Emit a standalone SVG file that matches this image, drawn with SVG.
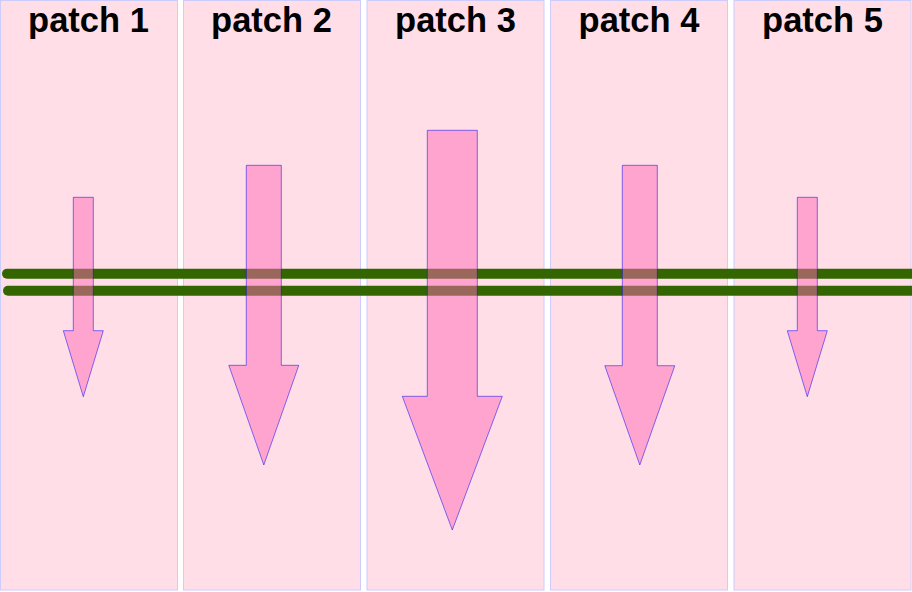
<svg xmlns="http://www.w3.org/2000/svg" width="912" height="592" viewBox="0 0 912 592">
<style>
.patch{fill:#ffdee8;stroke:#ccccff;stroke-width:1}
.lbl{font-family:"Liberation Sans",Arial,sans-serif;font-weight:bold;font-size:34.5px;fill:#000;text-anchor:middle}
.rail{stroke:#336600;stroke-width:10;stroke-linecap:round;fill:none}
.arrow{fill:#ff69b4;fill-opacity:0.5;stroke:#0000ff;stroke-opacity:0.5;stroke-width:1}
</style>
<rect width="912" height="592" fill="#ffffff"/>
<g id="patch1"><rect class="patch" x="0.5" y="0.5" width="177" height="589.5"/><text class="lbl" x="88.5" y="32">patch 1</text></g>
<g id="patch2"><rect class="patch" x="183.5" y="0.5" width="177" height="589.5"/><text class="lbl" x="271.5" y="32">patch 2</text></g>
<g id="patch3"><rect class="patch" x="367" y="0.5" width="177" height="589.5"/><text class="lbl" x="455.5" y="32">patch 3</text></g>
<g id="patch4"><rect class="patch" x="550.5" y="0.5" width="177" height="589.5"/><text class="lbl" x="639" y="32">patch 4</text></g>
<g id="patch5"><rect class="patch" x="734" y="0.5" width="177" height="589.5"/><text class="lbl" x="822.5" y="32">patch 5</text></g>
<g id="connectors">
<line class="rail" x1="7" y1="273.8" x2="916" y2="273.8"/>
<line class="rail" x1="8" y1="290.7" x2="916" y2="290.7"/>
</g>
<g id="arrows">
<polygon id="arrow1" class="arrow" points="73.3,197.3 93.3,197.3 93.3,330.7 103.3,330.7 83.3,396.7 63.3,330.7 73.3,330.7"/>
<polygon id="arrow2" class="arrow" points="246.3,165.3 281.3,165.3 281.3,365.3 298.8,365.3 263.8,465 228.8,365.3 246.3,365.3"/>
<polygon id="arrow3" class="arrow" points="427.3,130.3 477.3,130.3 477.3,396.3 502.3,396.3 452.3,530 402.3,396.3 427.3,396.3"/>
<polygon id="arrow4" class="arrow" points="622.3,165.3 657.3,165.3 657.3,365.7 674.8,365.7 639.8,465 604.8,365.7 622.3,365.7"/>
<polygon id="arrow5" class="arrow" points="797.3,197.3 817.3,197.3 817.3,330.7 827.3,330.7 807.3,396.7 787.3,330.7 797.3,330.7"/>
</g>
</svg>
